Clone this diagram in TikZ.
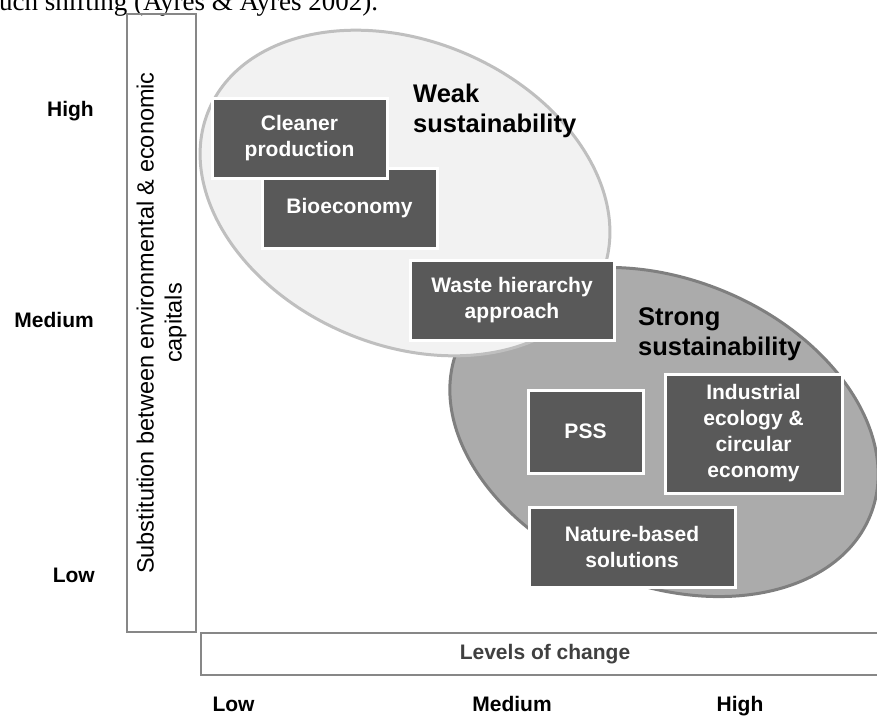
\documentclass[tikz,border=0pt]{standalone}
\usepackage{fontspec}
\setmainfont{Liberation Sans}
\newfontfamily\serifdoc{Liberation Serif}
\usepackage{tikz}
\usetikzlibrary{shapes,positioning,calc}
\usetikzlibrary{shapes.geometric}
\definecolor{grigiobox}{HTML}{595959}
\definecolor{debolefill}{HTML}{F2F2F2}
\definecolor{debolebordo}{HTML}{BFBFBF}
\definecolor{fortefill}{HTML}{ABABAB}
\definecolor{fortebordo}{HTML}{7F7F7F}
\definecolor{grigioasse}{HTML}{878787}
\definecolor{testoasse}{HTML}{404040}
\tikzstyle{pratica} = [rectangle, fill=grigiobox, draw=white, line width=3pt, text=white, inner sep=0pt,
font=\fontsize{21}{26}\selectfont\bfseries, align=center]
\tikzstyle{insieme} = [ellipse, inner sep=0pt, line width=3pt]
\tikzstyle{titolo} = [inner sep=0pt, align=left, font=\fontsize{25.5}{30}\selectfont\bfseries]
\tikzstyle{livello} = [inner sep=0pt, font=\fontsize{21}{25}\selectfont\bfseries]
\tikzstyle{asse} = [rectangle, draw=grigioasse, line width=2.5pt, inner sep=0pt, align=center]

\begin{document}
\begin{tikzpicture}[x=1pt,y=-1pt]
\useasboundingbox (0,0) rectangle (877,716);
\clip (0,0) rectangle (877,716);
\node (riga) at (-1,10) [anchor=base west, inner sep=0pt, font=\serifdoc\fontsize{27}{32}\selectfont] {uch shifting (Ayres \& Ayres 2002).};

% insiemi
\node (forte) at (664,432) [insieme, fill=fortefill, draw=fortebordo, minimum width=445pt, minimum height=306pt, rotate=-22] {};
\node (debole) at (405,193) [insieme, fill=debolefill, draw=debolebordo, minimum width=426pt, minimum height=304pt, rotate=-23] {};
\node (tdebole) at (413,111) [titolo, anchor=west] {Weak\\sustainability};
\node (tforte) at (638,334) [titolo, anchor=west] {Strong\\sustainability};

% pratiche
\node (bio) at (349.5,208) [pratica, minimum width=175pt, minimum height=80pt] {Bioeconomy};
\node (cleaner) at (299.5,138) [pratica, minimum width=175pt, minimum height=80pt] {Cleaner\\production};
\node (waste) at (512,300) [pratica, minimum width=204pt, minimum height=80pt] {Waste hierarchy\\approach};
\node (pss) at (585.5,431.5) [pratica, minimum width=115pt, minimum height=83pt] {PSS};
\node (industrial) at (753.5,433.5) [pratica, minimum width=177pt, minimum height=119pt] {Industrial\\ecology \&\\circular\\economy};
\node (nature) at (632,547) [pratica, minimum width=206pt, minimum height=80pt] {Nature-based\\solutions};

% assi
\node (assey) at (161.5,323) [asse, rotate=90, minimum width=618pt, minimum height=69pt,
font=\fontsize{23.5}{28}\selectfont] {Substitution between environmental \& economic\\capitals};
\node (assex) at (545,654) [asse, minimum width=688pt, minimum height=42pt, text=testoasse,
font=\fontsize{21}{25}\selectfont\bfseries] {Levels of change};
\node (alto) at (94,116) [livello, anchor=base east] {High};
\node (medio) at (94,327) [livello, anchor=base east] {Medium};
\node (basso) at (95,582) [livello, anchor=base east] {Low};
\node (xbasso) at (233.5,711) [livello, anchor=base] {Low};
\node (xmedio) at (512,711) [livello, anchor=base] {Medium};
\node (xalto) at (740,711) [livello, anchor=base] {High};
\end{tikzpicture}
\end{document}
